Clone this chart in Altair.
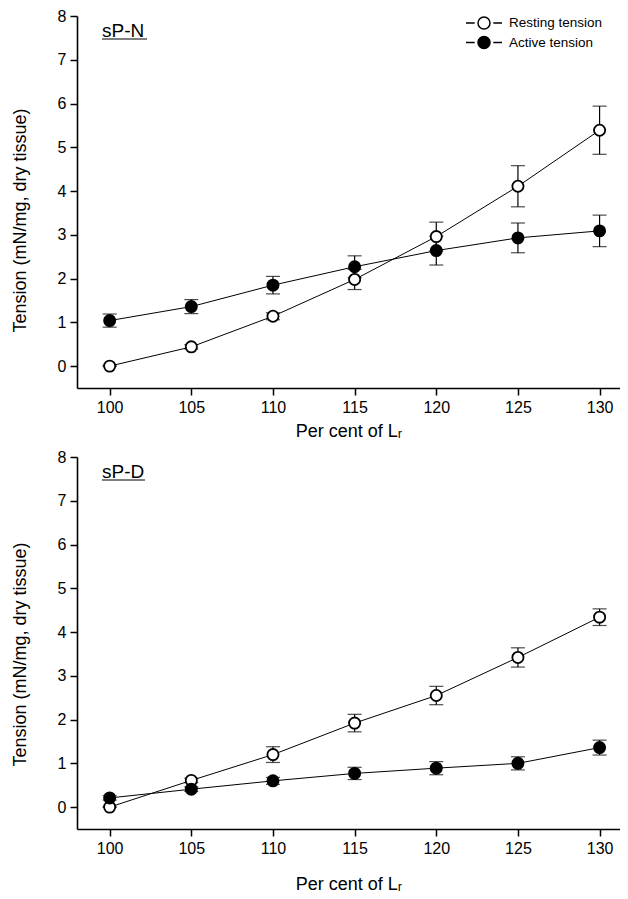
import altair as alt
import pandas as pd

# ---- data ----
lengths = [100, 105, 110, 115, 120, 125, 130]
series_names = ["Resting tension", "Active tension"]

spn_rest = [0.00, 0.44, 1.14, 1.98, 2.96, 4.11, 5.39]
spn_rest_err = [0.00, 0.05, 0.08, 0.23, 0.33, 0.47, 0.55]
spn_act = [1.04, 1.36, 1.85, 2.27, 2.64, 2.93, 3.09]
spn_act_err = [0.15, 0.16, 0.20, 0.25, 0.33, 0.34, 0.36]

spd_rest = [0.00, 0.61, 1.20, 1.92, 2.55, 3.42, 4.34]
spd_rest_err = [0.00, 0.05, 0.18, 0.20, 0.21, 0.22, 0.19]
spd_act = [0.21, 0.41, 0.60, 0.77, 0.89, 1.00, 1.36]
spd_act_err = [0.05, 0.05, 0.08, 0.14, 0.15, 0.15, 0.17]

x_ticks = [100, 105, 110, 115, 120, 125, 130]
y_ticks = [0, 1, 2, 3, 4, 5, 6, 7, 8]

FONT = "Liberation Sans"
X_TITLE = "Per cent of L\u1d63"
Y_TITLE = "Tension (mN/mg, dry tissue)"
LEGEND_PATH = "M-3,0L-1.55,0M1.55,0L3,0M-1,0A1,1,0,1,0,1,0A1,1,0,1,0,-1,0Z"


def make_df(rest, rest_err, act, act_err):
    rows = []
    for name, vals, errs in ((series_names[0], rest, rest_err), (series_names[1], act, act_err)):
        for x, v, e in zip(lengths, vals, errs):
            rows.append({"x": x, "y": v, "lo": v - e, "hi": v + e, "series": name})
    return pd.DataFrame(rows)


def panel(df, label, title_y, x_title_y, ul_end, show_legend):
    xs = alt.Scale(domain=[98, 131.25], nice=False, zero=False)
    ys = alt.Scale(domain=[-0.5, 8], nice=False, zero=False)
    xax = alt.Axis(values=x_ticks, title=X_TITLE, titleY=x_title_y, titleBaseline="middle")
    yax = alt.Axis(values=y_ticks, title=Y_TITLE, titleX=-57, titleY=title_y,
                   titleAlign="center", titleBaseline="middle", titleAngle=270)

    def X():
        return alt.X("x:Q", scale=xs, axis=xax)

    def Y(f="y"):
        return alt.Y(f"{f}:Q", scale=ys, axis=yax)

    base = alt.Chart(df)
    lines = base.mark_line(color="black", strokeWidth=1).encode(x=X(), y=Y(), detail="series:N")
    bars = base.mark_rule(color="black", strokeWidth=1.2).encode(x=X(), y=Y("lo"), y2="hi:Q")
    cap_hi = base.mark_tick(color="black", orient="horizontal", size=14, thickness=1.2).encode(x=X(), y=Y("hi"))
    cap_lo = base.mark_tick(color="black", orient="horizontal", size=14, thickness=1.2).encode(x=X(), y=Y("lo"))

    if show_legend:
        leg = alt.Legend(title=None, orient="none", legendX=400, legendY=0, padding=0,
                         symbolType=LEGEND_PATH, symbolSize=144, symbolStrokeColor="black",
                         symbolStrokeWidth=1.5, labelFont=FONT, labelFontSize=13.5,
                         labelOffset=18, rowPadding=1.5, labelColor="black")
    else:
        leg = None
    fill = alt.Fill("series:N", scale=alt.Scale(domain=series_names, range=["white", "black"]), legend=leg)
    pts = base.mark_point(filled=True, shape="circle", size=125, stroke="black",
                          strokeWidth=1.8, opacity=1).encode(x=X(), y=Y(), fill=fill)

    txt = alt.Chart(pd.DataFrame({"t": [label]})).mark_text(
        align="left", baseline="alphabetic", fontSize=19, font=FONT, color="black"
    ).encode(x=alt.value(25), y=alt.value(20.5), text="t:N")
    ul = alt.Chart(pd.DataFrame({"t": [label]})).mark_rule(color="black", strokeWidth=1.2).encode(
        x=alt.value(25), x2=alt.value(ul_end), y=alt.value(23))

    return alt.layer(lines, bars, cap_hi, cap_lo, pts, txt, ul).properties(width=543, height=372)


top = panel(make_df(spn_rest, spn_rest_err, spn_act, spn_act_err), "sP-N", 204, 43, 70, True)
bottom = panel(make_df(spd_rest, spd_rest_err, spd_act, spd_act_err), "sP-D", 197, 55, 68, False)

chart = alt.vconcat(top, bottom, spacing=9).resolve_scale(fill="independent").resolve_legend(
    fill="independent"
).properties(
    padding={"left": 3, "top": 0, "right": 0, "bottom": 0}
).configure_view(stroke=None).configure_axis(
    grid=False, domainColor="black", domainWidth=1.6, tickColor="black", tickWidth=1.5,
    tickSize=7, labelColor="black", titleColor="black", labelFont=FONT, titleFont=FONT,
    labelFontSize=16, titleFontSize=18, titleFontWeight="normal", labelPadding=4,
)

chart.save("out.html", embed_options={"renderer": "svg", "actions": False})
